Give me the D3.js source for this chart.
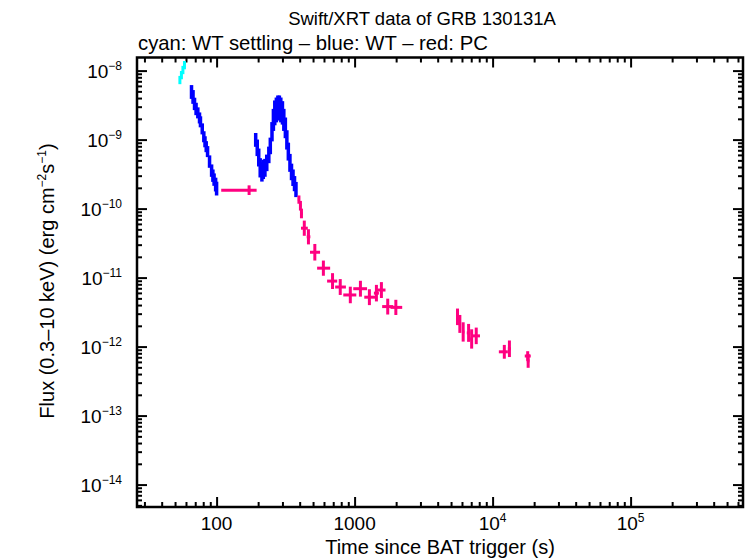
<!DOCTYPE html>
<html>
<head>
<meta charset="utf-8">
<script src="https://cdnjs.cloudflare.com/ajax/libs/d3/7.8.5/d3.min.js"></script>
<style>
  body { margin: 0; background: #fff; }
  text { font-family: "Liberation Sans", Arial, Helvetica, sans-serif; fill: #000; }
</style>
</head>
<body>
<div id="chart"></div>
<script>
// WT settling (cyan)
const cyanTime = [54.2, 55.6, 57.0, 58.5];
const cyanFlux = [7.3e-9, 8.6e-9, 1.02e-8, 1.2e-8];
const cyanErr = [0.06, 0.06, 0.06, 0.06];

// WT (blue)
const wtTime = [65.8, 67.5, 69.2, 71.0, 73.1, 75.2, 76.4, 78.7, 80.8, 82.4, 84.1, 86.0, 88.9, 92.0, 94.0, 95.9, 98.4, 100,
    192, 197, 202, 207, 213, 218, 224, 231, 239, 245, 252, 258, 264, 271, 278, 285, 292, 300, 307, 315, 323, 331, 340, 349, 358, 367, 376];
const wtFlux = [4.9e-9, 4.15e-9, 3.29e-9, 2.78e-9, 2.44e-9, 2.06e-9, 1.81e-9, 1.43e-9, 1.10e-9, 9.3e-10, 7.9e-10, 6.7e-10, 4.8e-10, 3.55e-10, 3.0e-10, 2.63e-10, 2.23e-10, 1.95e-10,
    9.9e-10, 7.6e-10, 5.5e-10, 3.9e-10, 3.4e-10, 3.7e-10, 3.9e-10, 4.6e-10, 6.0e-10, 8.1e-10, 1.30e-9, 1.93e-9, 2.44e-9, 2.69e-9, 2.88e-9, 2.88e-9, 2.69e-9, 2.44e-9, 1.93e-9, 1.48e-9, 9.9e-10, 6.7e-10, 4.6e-10, 3.4e-10, 2.8e-10, 2.3e-10, 1.89e-10];
const wtErr = [0.1, 0.1, 0.09, 0.09, 0.08, 0.08, 0.08, 0.08, 0.08, 0.08, 0.08, 0.08, 0.09, 0.09, 0.09, 0.09, 0.1, 0.1,
    0.1, 0.12, 0.13, 0.14, 0.14, 0.14, 0.13, 0.12, 0.12, 0.12, 0.14, 0.16, 0.18, 0.18, 0.18, 0.18, 0.18, 0.17, 0.16, 0.15, 0.14, 0.13, 0.13, 0.12, 0.12, 0.11, 0.11];

// PC (red)
const pcTime = [172, 395, 405, 412, 432, 463, 515, 594, 692, 787, 931, 1102, 1280, 1439, 1564, 1738, 1990,
    5570, 5790, 6120, 6700, 7050, 7610, 12160, 13240, 17960, 18100];
const pcTimeLo = [108, 388, 398, 405, 409, 450, 475, 535, 632, 723, 828, 978, 1175, 1380, 1455, 1584, 1820,
    5480, 5690, 6000, 6500, 6900, 7150, 11100, 12900, 17100, 17700];
const pcTimeHi = [195, 402, 412, 420, 458, 478, 562, 665, 748, 865, 1029, 1231, 1415, 1500, 1675, 1906, 2213,
    5660, 5890, 6250, 6900, 7200, 8100, 12900, 13600, 18900, 18500];
const pcFlux = [1.85e-10, 1.35e-10, 1.1e-10, 8.5e-11, 5.2e-11, 3.9e-11, 2.33e-11, 1.37e-11, 8.9e-12, 7.3e-12, 5.6e-12, 6.9e-12, 5.2e-12, 5.95e-12, 6.6e-12, 3.8e-12, 3.7e-12,
    2.7e-12, 2.13e-12, 1.63e-12, 1.58e-12, 1.29e-12, 1.43e-12, 8.4e-13, 9.3e-13, 7.3e-13, 6.2e-13];
const pcErr = [0.07, 0.06, 0.07, 0.07, 0.11, 0.11, 0.12, 0.11, 0.115, 0.115, 0.12, 0.115, 0.115, 0.12, 0.115, 0.115, 0.11,
    0.12, 0.13, 0.14, 0.13, 0.14, 0.12, 0.1, 0.12, 0.07, 0.1];

const xMajor = [100, 1000, 1e4, 1e5];
const xLabels = [["100", ""], ["1000", ""], ["10", "4"], ["10", "5"]];
const yExp = [-8, -9, -10, -11, -12, -13, -14];

const width = 746, height = 558;
const plot = {left: 137, right: 743, top: 57.5, bottom: 507};

const svg = d3.select("#chart").append("svg")
    .attr("width", width)
    .attr("height", height);

const x = d3.scaleLog()
    .domain([Math.pow(10, 1.4232), Math.pow(10, 5.8145)])
    .range([plot.left, plot.right]);
const y = d3.scaleLog()
    .domain([Math.pow(10, -14.325), Math.pow(10, -7.81)])
    .range([plot.bottom, plot.top]);

//Minor and major tick values
let xMinor = [];
for (let e = 1; e <= 5; e++) {
    for (let m = 2; m <= 9; m++) {
        let v = m * Math.pow(10, e);
        if (v > x.domain()[0] && v < x.domain()[1]) xMinor.push(v);
    }
}
let yMinor = [];
for (let e = -15; e <= -8; e++) {
    for (let m = 2; m <= 9; m++) {
        let v = m * Math.pow(10, e);
        if (v > y.domain()[0] && v < y.domain()[1]) yMinor.push(v);
    }
}
const yMajor = yExp.map(e => Math.pow(10, e));

const axisG = svg.append("g").attr("class", "axes");
function drawAxis(axis, tx, ty) {
    let g = axisG.append("g")
        .attr("transform", "translate(" + tx + "," + ty + ")")
        .call(axis);
    g.select(".domain").remove();
    g.selectAll("text").remove();
    g.selectAll("line").attr("stroke", "#000").attr("stroke-width", 2);
}
// inward ticks on all four sides
drawAxis(d3.axisBottom(x).tickValues(xMinor).tickSize(-5), 0, plot.bottom);
drawAxis(d3.axisBottom(x).tickValues(xMajor).tickSize(-10), 0, plot.bottom);
drawAxis(d3.axisTop(x).tickValues(xMinor).tickSize(-5), 0, plot.top);
drawAxis(d3.axisTop(x).tickValues(xMajor).tickSize(-10), 0, plot.top);
drawAxis(d3.axisLeft(y).tickValues(yMinor).tickSize(-5), plot.left, 0);
drawAxis(d3.axisLeft(y).tickValues(yMajor).tickSize(-10), plot.left, 0);
drawAxis(d3.axisRight(y).tickValues(yMinor).tickSize(-5), plot.right, 0);
drawAxis(d3.axisRight(y).tickValues(yMajor).tickSize(-10), plot.right, 0);

//Frame
svg.append("rect")
    .attr("x", plot.left)
    .attr("y", plot.top)
    .attr("width", plot.right - plot.left)
    .attr("height", plot.bottom - plot.top)
    .attr("fill", "none")
    .attr("stroke", "#000")
    .attr("stroke-width", 2.5);

//Tick labels
xMajor.forEach(function (v, i) {
    let t = svg.append("text")
        .attr("x", x(v))
        .attr("y", plot.bottom + 23)
        .attr("text-anchor", "middle")
        .style("font-size", "19px")
        .text(xLabels[i][0]);
    if (xLabels[i][1]) {
        t.append("tspan")
            .attr("dy", -8)
            .style("font-size", "12px")
            .text(xLabels[i][1]);
    }
});
yExp.forEach(function (e) {
    let t = svg.append("text")
        .attr("x", plot.left - 15)
        .attr("y", y(Math.pow(10, e)) + 7)
        .attr("text-anchor", "end")
        .style("font-size", "19px")
        .text("10");
    t.append("tspan")
        .attr("dy", -8)
        .style("font-size", "12px")
        .text("\u2212" + Math.abs(e));
});

//Titles
svg.append("text")
    .attr("x", 422)
    .attr("y", 25)
    .attr("text-anchor", "middle")
    .style("font-size", "18.5px")
    .text("Swift/XRT data of GRB 130131A");
svg.append("text")
    .attr("x", 138)
    .attr("y", 50)
    .style("font-size", "20.3px")
    .text("cyan: WT settling \u2013 blue: WT \u2013 red: PC");
svg.append("text")
    .attr("x", 440)
    .attr("y", 554)
    .attr("text-anchor", "middle")
    .style("font-size", "20px")
    .text("Time since BAT trigger (s)");
let yl = svg.append("text")
    .attr("transform", "translate(54," + 281 + ") rotate(-90)")
    .attr("text-anchor", "middle")
    .style("font-size", "20px")
    .text("Flux (0.3\u201310 keV) (erg cm");
yl.append("tspan").attr("dy", -8).style("font-size", "12px").text("\u22122");
yl.append("tspan").attr("dy", 8).text("s");
yl.append("tspan").attr("dy", -8).style("font-size", "12px").text("\u22121");
yl.append("tspan").attr("dy", 8).text(")");

//Data
const dataG = svg.append("g");
function drawErrBars(times, tLo, tHi, fluxes, errs, color, sw) {
    times.forEach(function (t, i) {
        let f = fluxes[i];
        let e = Math.pow(10, errs[i]);
        dataG.append("line")
            .attr("x1", x(tLo[i])).attr("x2", x(tHi[i]))
            .attr("y1", y(f)).attr("y2", y(f))
            .attr("stroke", color).attr("stroke-width", sw);
        dataG.append("line")
            .attr("x1", x(t)).attr("x2", x(t))
            .attr("y1", y(f / e)).attr("y2", y(f * e))
            .attr("stroke", color).attr("stroke-width", sw);
    });
}
drawErrBars(cyanTime, cyanTime.map(t => t * 0.99), cyanTime.map(t => t * 1.01), cyanFlux, cyanErr, "#00ffff", 3);
drawErrBars(wtTime, wtTime.map(t => t * 0.99), wtTime.map(t => t * 1.01), wtFlux, wtErr, "#0000ff", 3.5);
drawErrBars(pcTime, pcTimeLo, pcTimeHi, pcFlux, pcErr, "#ff0080", 3);
</script>
</body>
</html>
